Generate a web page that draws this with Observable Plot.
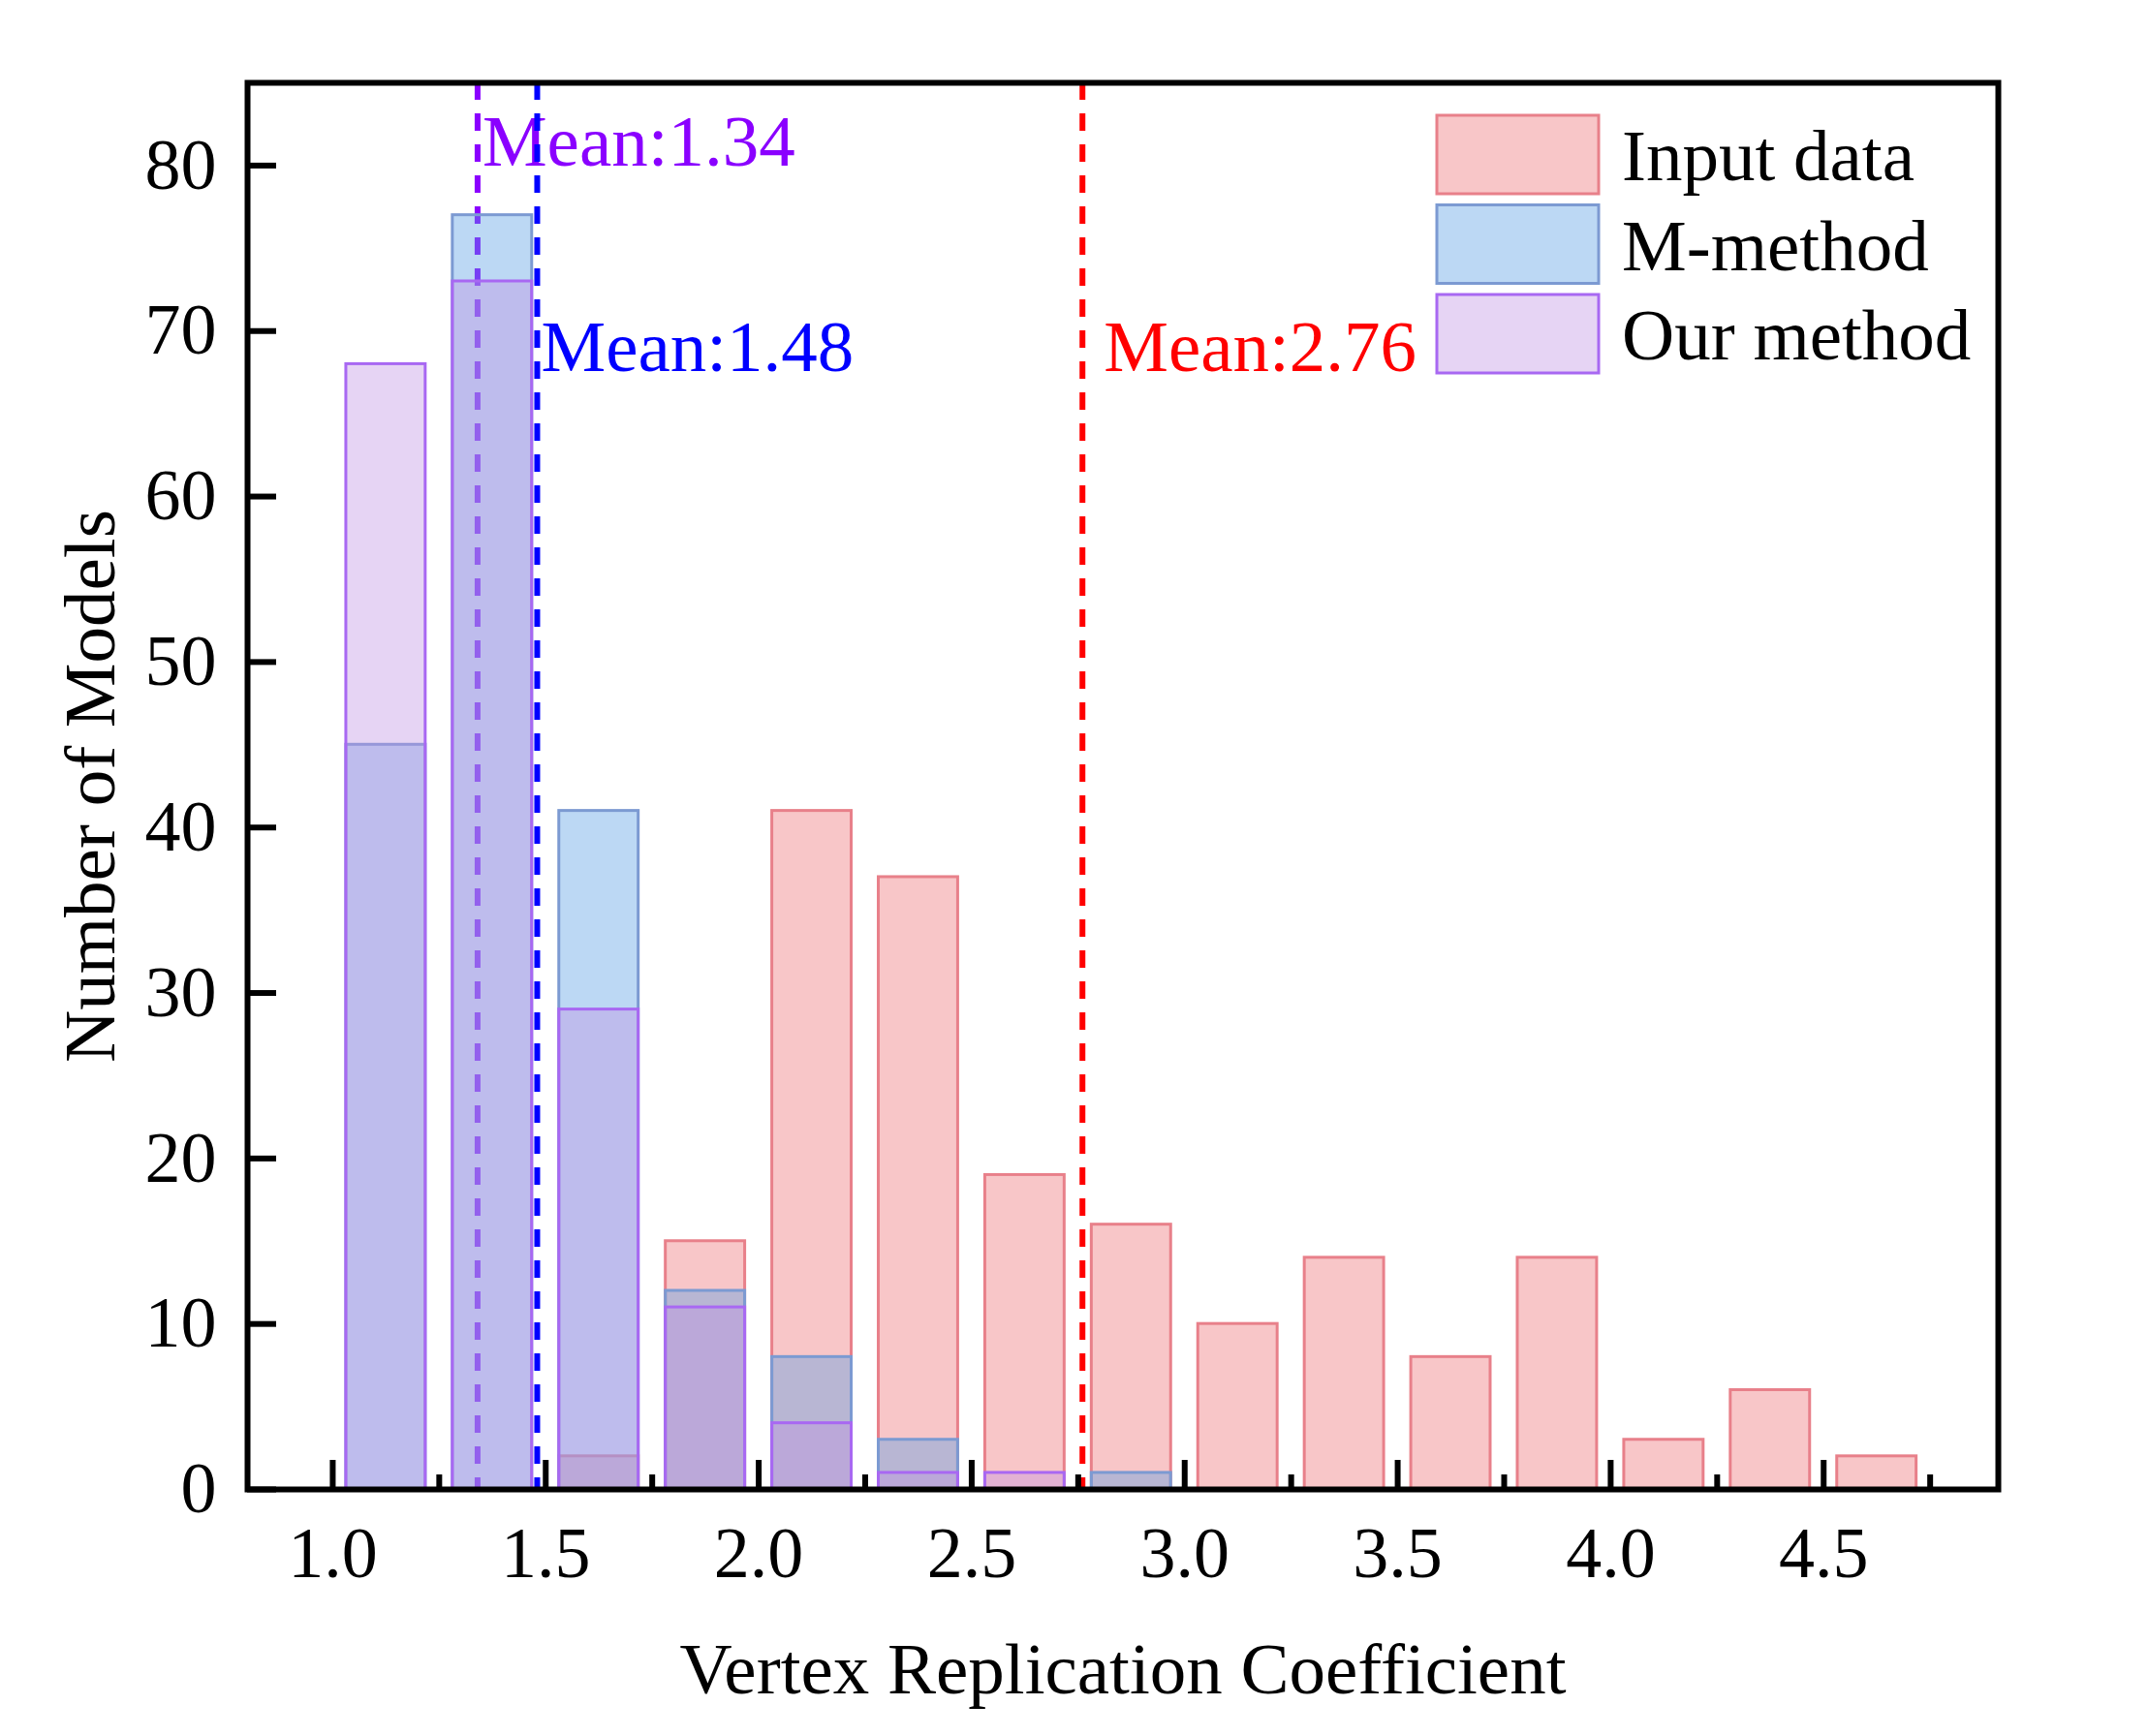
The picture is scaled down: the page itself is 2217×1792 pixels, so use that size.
<!DOCTYPE html>
<html>
<head>
<meta charset="utf-8">
<script src="https://cdn.jsdelivr.net/npm/d3@7"></script>
<script src="https://cdn.jsdelivr.net/npm/@observablehq/plot@0.6"></script>
<style>
  body { margin: 0; background: #fff; }
</style>
</head>
<body>
<div id="chart"></div>
<script>
// histogram bins (left edge of each 0.25-wide bin)
const binStarts = [1.0, 1.25, 1.5, 1.75, 2.0, 2.25, 2.5, 2.75, 3.0, 3.25, 3.5, 3.75, 4.0, 4.25, 4.5]
const binWidth = 0.25
const inputCounts = [0, 0, 2, 15, 41, 37, 19, 16, 10, 14, 8, 14, 3, 6, 2]
const mMethodCounts = [45, 77, 41, 12, 8, 3, 0, 1, 0, 0, 0, 0, 0, 0, 0]
const ourCounts = [68, 73, 29, 11, 4, 1, 1, 0, 0, 0, 0, 0, 0, 0, 0]
const seriesNames = ["Input data", "M-method", "Our method"]

// mean lines
const means = [1.34, 1.48, 2.76]
const meanLabels = ["Mean:1.34", "Mean:1.48", "Mean:2.76"]

// ticks
const xTicks = [1.0, 1.5, 2.0, 2.5, 3.0, 3.5, 4.0, 4.5]
const xMinorTicks = [1.25, 1.75, 2.25, 2.75, 3.25, 3.75, 4.25, 4.75]
const yTicks = [0, 10, 20, 30, 40, 50, 60, 70, 80]

// styles
const fills = ["#ed7075", "#579de3", "#c093e3"]
const strokes = ["#e8808a", "#7c9ad2", "#a868f2"]
const meanColors = ["#8a00ff", "#0000ff", "#ff0000"]
const meanDx = [5, 4, 22]
const meanDy = [32, 244, 244]
const font = "Liberation Serif"
const fs = 74

const allCounts = [inputCounts, mMethodCounts, ourCounts]
const table = seriesNames.map((s, i) =>
  binStarts.map((b, j) => ({series: s, x1: b, x2: b + binWidth, count: allCounts[i][j]}))
    .filter(d => d.count > 0))

// legend drawn in pixels inside the frame, top right
function legend(index, scales, values, dim) {
  const g = d3.create("svg:g")
  const x0 = dim.width - dim.marginRight - 579
  const y0 = dim.marginTop + 34
  seriesNames.forEach((name, i) => {
    const y = y0 + i * 92.5
    g.append("rect").attr("x", x0).attr("y", y).attr("width", 167).attr("height", 81)
      .attr("fill", fills[i]).attr("fill-opacity", 0.4)
      .attr("stroke", strokes[i]).attr("stroke-width", 3)
    g.append("text").attr("x", x0 + 191).attr("y", y + 67).text(name)
      .attr("text-anchor", "start")
      .attr("font-family", font).attr("font-size", fs + 1).attr("fill", "black")
  })
  return g.node()
}

let chart = Plot.plot({
  width: 2217,
  height: 1792,
  marginLeft: 255,
  marginRight: 155,
  marginTop: 85,
  marginBottom: 255,
  style: {fontFamily: font, background: "white", color: "black"},
  x: {domain: [0.8, 4.91]},
  y: {domain: [0, 85]},
  marks: [
    // mean labels
    ...means.map((m, i) => Plot.text([m], {
      x: d => d, text: () => meanLabels[i], frameAnchor: "top",
      textAnchor: "start", lineAnchor: "top", dx: meanDx[i], dy: meanDy[i],
      fill: meanColors[i], fontSize: fs + 1
    })),
    // mean lines
    ...means.map((m, i) => Plot.ruleX([m], {
      x: d => d, stroke: meanColors[i], strokeWidth: 6, strokeDasharray: "18,14"
    })),
    // bars: input, M-method, ours
    ...table.map((rows, i) => Plot.rectY(rows, {
      x1: "x1", x2: "x2", y: "count", insetLeft: 14, insetRight: 14,
      fill: fills[i], fillOpacity: 0.4, stroke: strokes[i], strokeWidth: 3
    })),
    legend,
    // axes
    Plot.axisX({ticks: xTicks, tickSize: -30, strokeWidth: 6, tickFormat: () => "", label: null}),
    Plot.axisX({ticks: xMinorTicks, tickSize: -15, strokeWidth: 6, tickFormat: () => "", label: null}),
    Plot.axisX({ticks: xTicks, tickSize: 0, tickPadding: 38, tickFormat: d3.format(".1f"), fontSize: fs, label: null}),
    Plot.axisY({ticks: yTicks, tickSize: -30, strokeWidth: 6, tickFormat: () => "", label: null}),
    Plot.axisY({ticks: yTicks, tickSize: 0, tickPadding: 32, fontSize: fs, label: null}),
    Plot.text(["Vertex Replication Coefficient"], {
      text: d => d, frameAnchor: "bottom", lineAnchor: "middle", dy: 186, fontSize: fs + 1
    }),
    Plot.text(["Number of Models"], {
      text: d => d, frameAnchor: "left", rotate: -90, textAnchor: "middle", lineAnchor: "middle", dx: -162, fontSize: fs + 1
    }),
    Plot.frame({stroke: "black", strokeWidth: 6})
  ]
})

d3.select('#chart').append(() => chart)
</script>
</body>
</html>
